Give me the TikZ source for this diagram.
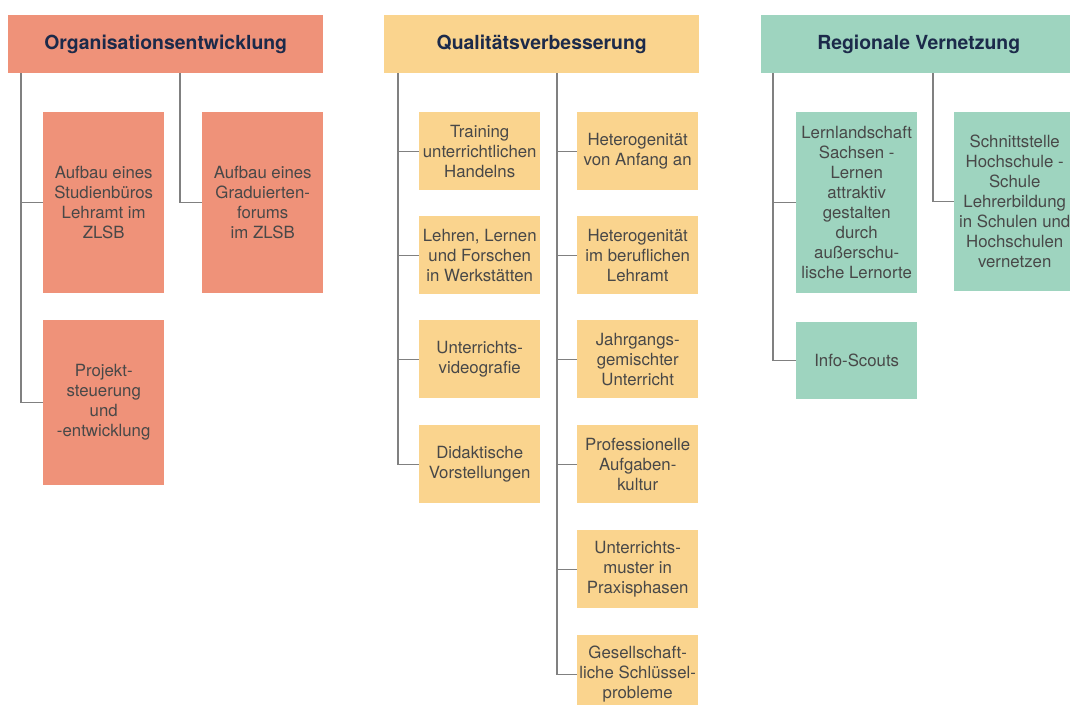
\documentclass[tikz,border=0pt]{standalone}
\usepackage{fontspec}
\setmainfont{TeX Gyre Heros}
\usepackage{xcolor}
\usetikzlibrary{positioning}
\definecolor{orga}{RGB}{239,146,121}
\definecolor{qual}{RGB}{250,212,142}
\definecolor{regio}{RGB}{158,212,191}
\definecolor{titel}{RGB}{28,42,74}
\definecolor{schrift}{RGB}{72,72,72}
\definecolor{linie}{RGB}{128,128,128}
\tikzset{
  kopf/.style={anchor=north west, minimum width=315pt, minimum height=58pt, inner sep=0pt,
    text=titel, font=\fontsize{19.4}{22}\selectfont\bfseries},
  feld/.style={anchor=north west, minimum width=121pt, inner sep=0pt, align=center,
    text=schrift, font=\fontsize{16.8}{20}\selectfont},
  ast/.style={linie, line width=1.2pt},
}

\begin{document}
\begin{tikzpicture}[x=1pt, y=-1pt]
\useasboundingbox (0,0) rectangle (1070,704);
\clip (0,0) rectangle (1070,704);
% Kopfzeilen
\node[kopf, fill=orga] (ok) at (8,15) {Organisationsentwicklung};
\node[kopf, fill=qual] (qk) at (384,15) {Qualitätsverbesserung};
\node[kopf, fill=regio] (rk) at (761,15) {Regionale Vernetzung};
% Organisationsentwicklung
\node[feld, fill=orga, minimum height=181pt] (o1) at (43,112) {Aufbau eines\\Studienbüros\\Lehramt im\\ZLSB};
\node[feld, fill=orga, minimum height=181pt] (o2) at (202,112) {Aufbau eines\\Graduierten-\\forums\\im ZLSB};
\node[feld, fill=orga, minimum height=165pt] (o3) at (43,320) {Projekt-\\steuerung\\und\\-entwicklung};
% Qualitaetsverbesserung
\node[feld, fill=qual, minimum height=78pt] (q1) at (419,112) {Training\\unterrichtlichen\\Handelns};
\node[feld, fill=qual, minimum height=78pt] (q2) at (419,216) {Lehren, Lernen\\und Forschen\\in Werkstätten};
\node[feld, fill=qual, minimum height=78pt] (q3) at (419,320) {Unterrichts-\\videografie};
\node[feld, fill=qual, minimum height=78pt] (q4) at (419,425) {Didaktische\\Vorstellungen};
\node[feld, fill=qual, minimum height=78pt] (q5) at (577,112) {Heterogenität\\von Anfang an};
\node[feld, fill=qual, minimum height=78pt] (q6) at (577,216) {Heterogenität\\im beruflichen\\Lehramt};
\node[feld, fill=qual, minimum height=78pt] (q7) at (577,320) {Jahrgangs-\\gemischter\\Unterricht};
\node[feld, fill=qual, minimum height=78pt] (q8) at (577,425) {Professionelle\\Aufgaben-\\kultur};
\node[feld, fill=qual, minimum height=78pt] (q9) at (577,530) {Unterrichts-\\muster in\\Praxisphasen};
\node[feld, fill=qual, minimum height=78pt] (q10) at (577,635) {Gesellschaft-\\liche Schlüssel-\\probleme};
% Regionale Vernetzung
\node[feld, fill=regio, minimum height=181pt] (r1) at (796,112) {Lernlandschaft\\Sachsen -\\Lernen\\attraktiv\\gestalten\\durch\\außerschu-\\lische Lernorte};
\node[feld, fill=regio, minimum height=77pt] (r2) at (796,322) {Info-Scouts};
\node[feld, fill=regio, minimum height=179pt] (r3) at (954,112) {Schnittstelle\\Hochschule -\\Schule\\Lehrerbildung\\in Schulen und\\Hochschulen\\vernetzen};
% Verbindungslinien
\coordinate (ot1) at (21,73);
\coordinate (ot2) at (180,73);
\coordinate (qt1) at (398,73);
\coordinate (qt2) at (557,73);
\coordinate (rt1) at (773,73);
\coordinate (rt2) at (933,73);
\draw[ast] (ot1) |- (o1.west);
\draw[ast] (ot1) |- (o3.west);
\draw[ast] (ot2) |- (o2.west);
\draw[ast] (qt1) |- (q1.west);
\draw[ast] (qt1) |- (q2.west);
\draw[ast] (qt1) |- (q3.west);
\draw[ast] (qt1) |- (q4.west);
\draw[ast] (qt2) |- (q5.west);
\draw[ast] (qt2) |- (q6.west);
\draw[ast] (qt2) |- (q7.west);
\draw[ast] (qt2) |- (q8.west);
\draw[ast] (qt2) |- (q9.west);
\draw[ast] (qt2) |- (q10.west);
\draw[ast] (rt1) |- (r1.west);
\draw[ast] (rt1) |- (r2.west);
\draw[ast] (rt2) |- (r3.west);
\end{tikzpicture}
\end{document}
